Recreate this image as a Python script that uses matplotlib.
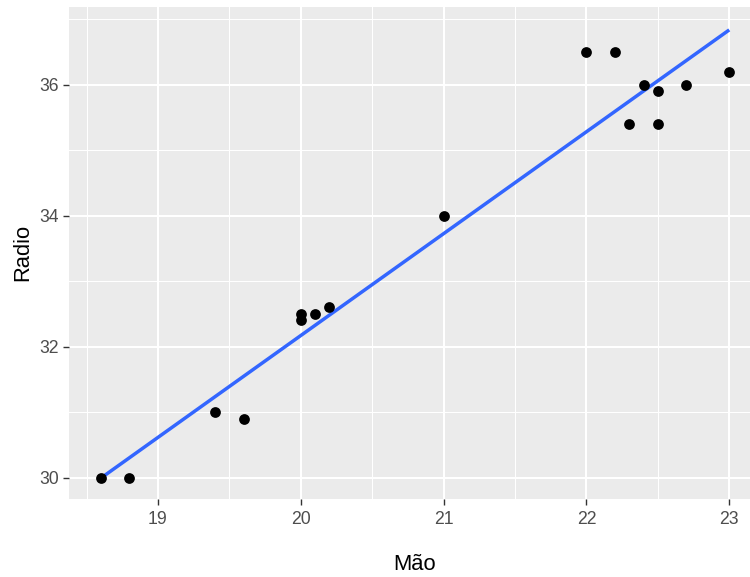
import numpy as np
import matplotlib
matplotlib.use("Agg")
import matplotlib.pyplot as plt
from matplotlib.ticker import MultipleLocator

mao = [18.6, 18.8, 19.4, 19.6, 20.0, 20.0, 20.1, 20.2, 21.0,
       22.0, 22.2, 22.3, 22.4, 22.5, 22.5, 22.7, 23.0]
radio = [30.0, 30.0, 31.0, 30.9, 32.5, 32.4, 32.5, 32.6, 34.0,
         36.5, 36.5, 35.4, 36.0, 35.9, 35.4, 36.0, 36.2]
x_ticks = [19, 20, 21, 22, 23]
y_ticks = [30, 32, 34, 36]

plt.rcParams['font.family'] = ['Liberation Sans', 'DejaVu Sans']

fig = plt.figure(figsize=(7.5, 5.77), dpi=100)
ax = fig.add_axes([0.092, 0.1352, 0.9228, 0.8532])
ax.set_facecolor('#EBEBEB')
for s in ax.spines.values():
    s.set_visible(False)

x = np.array(mao)
y = np.array(radio)
b, a = np.polyfit(x, y, 1)
xs = np.linspace(x.min(), x.max(), 80)
ax.plot(xs, a + b * xs, color='#3366FF', lw=2.5, zorder=3, solid_capstyle='butt')
ax.scatter(x, y, s=60, color='black', zorder=4, linewidths=0)

ax.set_xlim(18.377, 23.223)
ax.set_ylim(29.675, 37.19)
ax.set_xticks(x_ticks)
ax.set_yticks(y_ticks)
ax.xaxis.set_minor_locator(MultipleLocator(0.5))
ax.yaxis.set_minor_locator(MultipleLocator(1))
ax.grid(which='major', color='white', lw=1.5)
ax.grid(which='minor', color='white', lw=0.77)
ax.set_axisbelow(True)
ax.tick_params(which='minor', length=0)
ax.tick_params(which='major', length=4, width=1.0, color='#333333',
               labelcolor='#4D4D4D', labelsize=12.67, pad=3.5)
ax.tick_params(axis='x', pad=4.5)

ax.set_xlabel('Mão', fontsize=15.8, color='black', labelpad=19)
ax.set_ylabel('Radio', fontsize=15.8, color='black', labelpad=4)

fig.savefig('out.png', dpi=100)
